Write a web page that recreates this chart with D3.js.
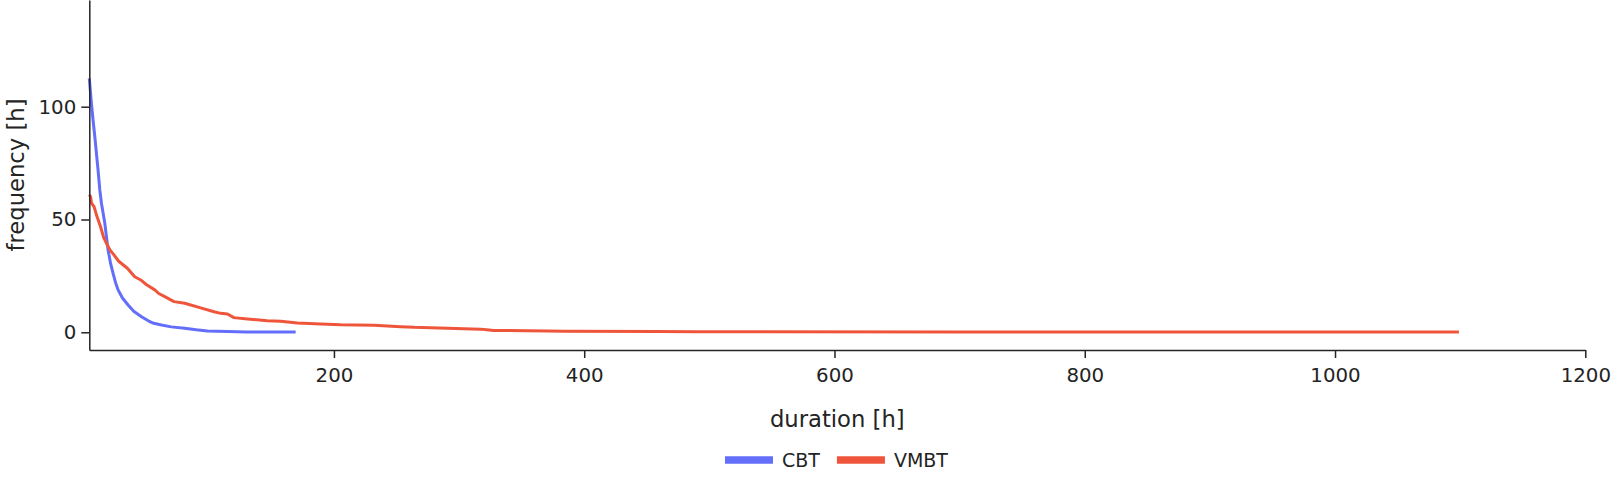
<!DOCTYPE html>
<html>
<head>
<meta charset="utf-8">
<script src="https://cdn.jsdelivr.net/npm/d3@7"></script>
<style>
  html, body { margin: 0; padding: 0; background: #fff; }
  svg { display: block; }
  text { font-family: "DejaVu Sans", Verdana, sans-serif; fill: rgb(36,36,36); }
</style>
</head>
<body>
<svg id="chart" width="1611" height="483"></svg>
<script>
// ---- data ----
const seriesNames = ["CBT", "VMBT"];
const seriesColors = ["#636efa", "#EF553B"];

const cbtDuration = [4.5, 6.2, 7.5, 8.9, 11.5, 12.9, 14.2, 16.9, 19.5, 21.5, 23.5, 25.5, 27.5, 31, 35.5, 40, 46.2, 52, 56, 62.2, 70, 80.7, 90, 98.9, 115, 130, 150, 169.4];
const cbtFrequency = [112.6, 101.5, 94.1, 86.7, 71.9, 63.1, 57.2, 48.3, 36.5, 30.5, 26.1, 22, 18.8, 15.2, 12.1, 9.3, 6.9, 5.0, 4.0, 3.2, 2.4, 1.8, 1.1, 0.6, 0.3, 0.15, 0.1, 0.1];

const vmbtDuration = [4.5, 5.5, 6.3, 8.3, 10.5, 13.5, 16, 18.9, 21, 24.2, 28, 34.9, 40.8, 45.6, 50, 56.8, 60, 64.8, 72.2, 80.7, 93.5, 104.2, 109.5, 114.9, 120.1, 130.8, 146.8, 157.4, 170.8, 189.4, 205.4, 232, 253.3, 264, 290.6, 317.2, 322, 327.8, 370.4, 383.5, 458, 490, 520, 700, 900, 1099];
const vmbtFrequency = [61, 60.1, 57.2, 55.7, 51.5, 46.8, 42, 38.7, 36.5, 34.3, 31.5, 28.4, 24.6, 23.2, 21.2, 18.8, 17.2, 15.8, 13.6, 12.9, 10.8, 9.1, 8.4, 8.1, 6.5, 5.9, 5.1, 4.9, 4.1, 3.7, 3.3, 3.1, 2.5, 2.2, 1.8, 1.4, 1.1, 0.8, 0.6, 0.5, 0.4, 0.25, 0.2, 0.15, 0.1, 0.1];

const xTicks = [200, 400, 600, 800, 1000, 1200];
const yTicks = [0, 50, 100];
const xTitle = "duration [h]";
const yTitle = "frequency [h]";

// ---- layout ----
const plot = { left: 89.3, right: 1585.3, top: 0, bottom: 350 };
const xDomain = [4.5, 1200];
const yDomain = [-7.85, 147.3];
const ink = "rgb(36,36,36)";
const fontFamily = '"DejaVu Sans", Verdana, sans-serif';

const svg = d3.select("#chart");
svg.append("rect").attr("width", 1611).attr("height", 483).attr("fill", "#fff");

const x = d3.scaleLinear().domain(xDomain).range([plot.left, plot.right]);
const y = d3.scaleLinear().domain(yDomain).range([plot.bottom, plot.top]);

const series = [
  { name: seriesNames[0], color: seriesColors[0], xs: cbtDuration, ys: cbtFrequency },
  { name: seriesNames[1], color: seriesColors[1], xs: vmbtDuration, ys: vmbtFrequency }
];
const line = d3.line().x(d => x(d[0])).y(d => y(d[1])).curve(d3.curveLinear);

series.forEach(s => {
  svg.append("path")
    .datum(d3.zip(s.xs, s.ys))
    .attr("fill", "none")
    .attr("stroke", s.color)
    .attr("stroke-width", 3)
    .attr("stroke-linejoin", "round")
    .attr("d", line);
});

// axes
const fmt = d3.format("d");
const xAxis = d3.axisBottom(x).tickValues(xTicks).tickFormat(fmt).tickSize(8).tickPadding(10).tickSizeOuter(0);
const gx = svg.append("g").attr("transform", `translate(0,${plot.bottom})`).call(xAxis);
const yAxis = d3.axisLeft(y).tickValues(yTicks).tickFormat(fmt).tickSize(8).tickPadding(5).tickSizeOuter(0);
const gy = svg.append("g").attr("transform", `translate(${plot.left},0)`).call(yAxis);

[gx, gy].forEach(g => {
  g.select(".domain").attr("stroke", ink).attr("stroke-width", 1.5);
  g.selectAll(".tick line").attr("stroke", ink).attr("stroke-width", 1.5);
  g.selectAll(".tick text").attr("font-size", 19.8).attr("font-family", fontFamily).attr("fill", ink);
});

// axis titles
svg.append("text")
  .attr("x", (plot.left + plot.right) / 2)
  .attr("y", 427)
  .attr("text-anchor", "middle")
  .attr("font-size", 22.7)
  .text(xTitle);

svg.append("text")
  .attr("transform", `translate(23.5,${(plot.top + plot.bottom) / 2}) rotate(-90)`)
  .attr("text-anchor", "middle")
  .attr("font-size", 22.7)
  .text(yTitle);

// legend
let lx = 725;
const ly = 460;
series.forEach(s => {
  svg.append("line")
    .attr("x1", lx).attr("x2", lx + 48)
    .attr("y1", ly).attr("y2", ly)
    .attr("stroke", s.color).attr("stroke-width", 7.5);
  const t = svg.append("text")
    .attr("x", lx + 57)
    .attr("y", ly + 7)
    .attr("font-size", 19)
    .text(s.name);
  lx = lx + 57 + t.node().getComputedTextLength() + 17;
});
</script>
</body>
</html>
